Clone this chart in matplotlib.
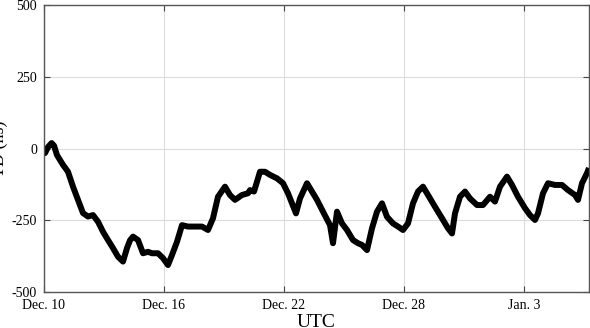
import matplotlib
matplotlib.use("Agg")
import matplotlib.pyplot as plt

# days since Dec. 10 (00:00 UTC)
days = [0, 0.05, 0.2, 0.38, 0.5, 0.65, 0.8, 0.95, 1.2, 1.45, 1.7, 1.95, 2.2, 2.45,
        2.7, 2.95, 3.2, 3.45, 3.7, 3.95, 4.15, 4.3, 4.45, 4.7, 4.95, 5.2, 5.4, 5.7,
        5.95, 6.2, 6.4, 6.65, 6.9, 7.2, 7.55, 7.9, 8.2, 8.45, 8.7, 9.05, 9.3, 9.55,
        9.9, 10.2, 10.3, 10.5, 10.8, 11.05, 11.3, 11.65, 11.95, 12.2, 12.4, 12.6,
        12.8, 13.15, 13.4, 13.65, 13.95, 14.3, 14.45, 14.65, 14.9, 15.15, 15.45,
        15.7, 15.9, 16.15, 16.4, 16.65, 16.9, 17.15, 17.45, 17.7, 17.95, 18.2,
        18.45, 18.7, 18.95, 19.2, 19.55, 19.9, 20.2, 20.4, 20.55, 20.8, 21.05,
        21.3, 21.65, 21.95, 22.3, 22.55, 22.8, 23.15, 23.4, 23.7, 24.05, 24.3,
        24.55, 24.7, 24.95, 25.2, 25.55, 25.9, 26.2, 26.55, 26.7, 26.9, 27.15, 27.25]

td_ns = [-10, -16, 5, 19, 10, -23, -40, -57, -81, -133, -179, -225, -237, -232,
         -255, -290, -319, -347, -377, -394, -347, -320, -307, -319, -365, -360, -365, -365,
         -382, -406, -371, -325, -267, -272, -272, -272, -284, -243, -168, -133, -162, -179,
         -162, -156, -145, -150, -81, -81, -92, -104, -121, -156, -191, -226,
         -174, -121, -150, -179, -220, -267, -330, -220, -261, -284, -319,
         -330, -336, -354, -278, -220, -191, -238, -261, -272, -284, -261,
         -191, -150, -133, -162, -203, -243, -278, -296, -226, -168, -150,
         -174, -197, -197, -168, -185, -133, -98, -127, -168, -208, -232,
         -249, -226, -156, -121, -127, -127, -145, -162, -179, -121, -86, -68]

xtick_pos = [0, 6, 12, 18, 24]
xtick_labels = ["Dec. 10", "Dec. 16", "Dec. 22", "Dec. 28", "Jan. 3"]
ytick_pos = [-500, -250, 0, 250, 500]

plt.rcParams['font.family'] = ['Liberation Serif', 'DejaVu Serif']

fig = plt.figure(figsize=(5.9, 3.28), dpi=100)
ax = fig.add_axes([44/590, 36/328, 545/590, 287/328])

ax.plot(days, td_ns, color='black', lw=4.3, solid_joinstyle='round', solid_capstyle='butt')

ax.set_xlim(0, 27.25)
ax.set_ylim(-500, 500)
ax.set_xticks(xtick_pos)
ax.set_xticklabels(xtick_labels)
ax.set_yticks(ytick_pos)
ax.set_yticklabels([str(v) for v in ytick_pos])

ax.grid(True, color='#dcdcdc', lw=0.8)
ax.set_axisbelow(True)
ax.tick_params(direction='in', length=4, width=0.8, color='#444444',
               top=True, right=True, labelsize=10, pad=5)
for s in ax.spines.values():
    s.set_color('#555555')
    s.set_linewidth(1.0)

ax.set_ylabel("TD (ns)", fontsize=13)
ax.yaxis.set_label_coords(-0.066, 0.5)
ax.set_xlabel("UTC", fontsize=14, va='top')
ax.xaxis.set_label_coords(0.5, -0.078)

fig.savefig("out.png", dpi=100)
